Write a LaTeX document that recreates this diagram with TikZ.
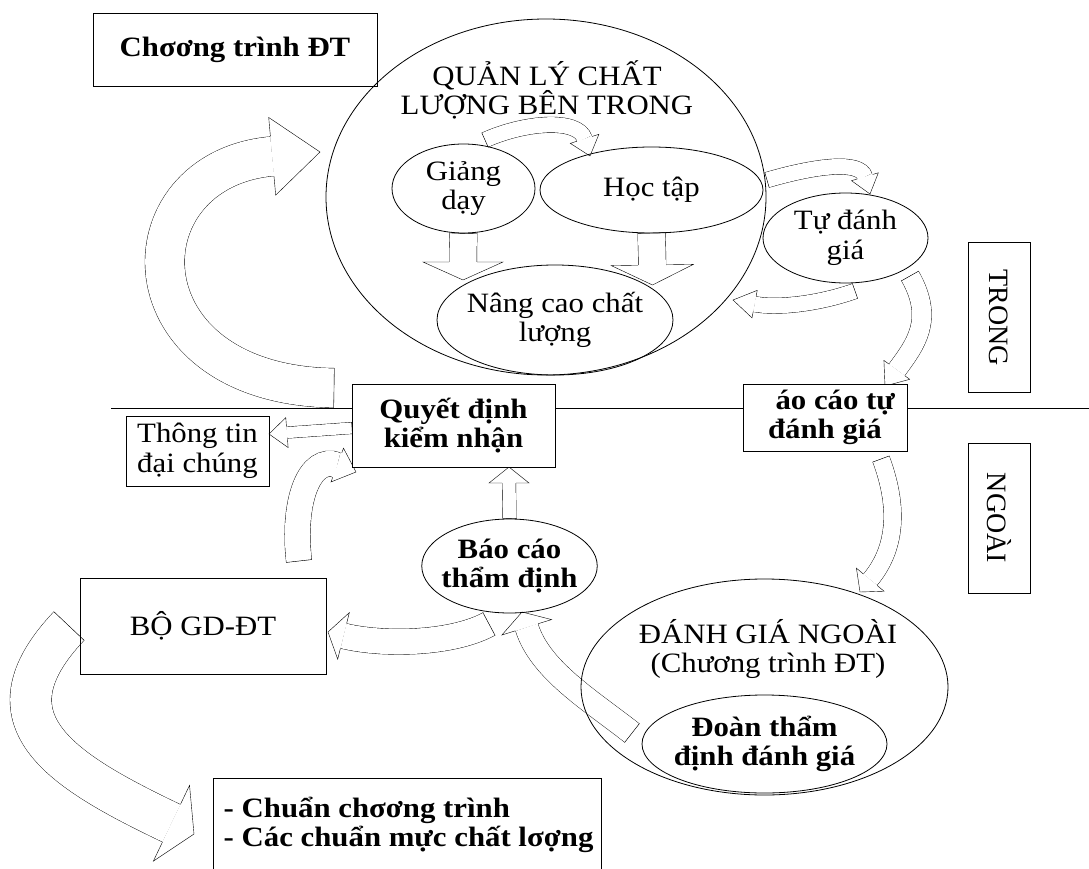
\documentclass[tikz,border=0pt]{standalone}
\usepackage{fontspec}
\setmainfont{Liberation Serif}[FakeStretch=1.1]
\newfontfamily\uprightrm{Liberation Serif}
\usetikzlibrary{shapes.geometric, calc}
\pgfdeclarelayer{background}
\pgfsetlayers{background,main}
\tikzset{
    txt/.style={font=\fontsize{28}{29.5}\selectfont},
    btxt/.style={font=\fontsize{28}{29.5}\selectfont\bfseries},
    box/.style={draw, rectangle, inner sep=0pt, align=center},
    oval/.style={draw, ellipse, inner sep=-6pt, align=center},
    side/.style={box, minimum width=62pt, minimum height=150pt},
}
% block arrow: start, control 1, control 2, tip, shaft half width, head half width, head length
\newcommand{\blockarrow}[7]{%
    \pgfmathsetlengthmacro\badist{2*#5pt-0.8pt}
    \coordinate (ba-b) at ($(#4)!#7pt!(#3)$);
    \draw[double=white, double distance=\badist, shorten >=#7pt] (#1) .. controls (#2) and (#3) .. (#4);
    \draw ($(#1)!#5pt!90:(#2)$) -- ($(#1)!#5pt!-90:(#2)$);
    \filldraw[fill=white] ($(ba-b)!#5pt!90:(#4)$) -- ($(ba-b)!#6pt!90:(#4)$) -- (#4)
        -- ($(ba-b)!#6pt!-90:(#4)$) -- ($(ba-b)!#5pt!-90:(#4)$);
}

\begin{document}
\begin{tikzpicture}[x=1pt, y=-1pt, line width=0.8pt, txt]
    \useasboundingbox (0,0) rectangle (1089,869);

    % inside
    \node[box, btxt, minimum width=284pt, minimum height=73pt] (cdt) at (235,49.5) {Chσơng trình ĐT};
    \node[oval, minimum width=440pt, minimum height=356pt] (qlcl) at (546,197) {};
    \node[align=center] (qlclt) at (547,90) {QUẢN LÝ CHẤT\\LƯỢNG BÊN TRONG};
    \node[oval, minimum width=143pt, minimum height=89pt] (gd) at (463.5,188.5) {Giảng\\dạy};
    \node[oval, minimum width=223pt, minimum height=86pt] (ht) at (651.5,190) {Học tập};
    \node[oval, minimum width=236pt, minimum height=110pt] (ncl) at (555,320) {Nâng cao chất\\lượng};
    \node[oval, minimum width=165pt, minimum height=90pt] (tdg) at (845.5,238) {Tự đánh\\giá};
    \node[side] (trong) at (999,317.5) {\rotatebox{-90}{\uprightrm TRONG}};

    % on the line
    \node[box, btxt, fill=white, minimum width=203pt, minimum height=83pt] (qd) at (453.5,425.5) {Quyết định\\kiểm nhận};
    \node[box, btxt, fill=white, minimum width=164pt, minimum height=67pt] (ac) at (825,417.5) {\phantom{B}áo cáo tự\\đánh giá};

    % outside
    \node[box, minimum width=143pt, minimum height=70pt] (ttdc) at (197.5,451) {Thông tin\\đại chúng};
    \node[side] (ngoai) at (999,518) {\rotatebox{-90}{\uprightrm NGOÀI}};
    \node[oval, btxt, minimum width=175pt, minimum height=94pt] (bctd) at (509.5,566) {Báo cáo\\thẩm định};
    \node[box, minimum width=246pt, minimum height=96pt] (bo) at (203,626) {BỘ GD-ĐT};
    \node[oval, minimum width=367pt, minimum height=216pt] (dgn) at (764.5,687) {};
    \node[align=center] (dgnt) at (768,649) {ĐÁNH GIÁ NGOÀI\\(Chương trình ĐT)};
    \node[oval, btxt, minimum width=245pt, minimum height=98pt] (dtd) at (764.5,744) {Đoàn thẩm\\định đánh giá};
    \node[box, anchor=north west, minimum width=388pt, minimum height=102pt] (chuan) at (213,778) {};
    \node[btxt, anchor=west, align=left] (chuant) at (220,825) {- Chuẩn chσơng trình\\- Các chuẩn mực chất lσợng};

    \begin{pgfonlayer}{background}
        \draw (111,408) -- (1089,408);
        \blockarrow{334,388}{120,385}{120,170}{320,152}{20}{39}{48}
        \blockarrow{485,140}{525,122}{578,118}{590,156}{8}{15}{18}
        \blockarrow{gd.south}{463,250}{463,250}{463,280}{14}{40}{18}
        \blockarrow{651.5,233}{652,250}{652,250}{652.5,285}{14}{41}{20}
        \blockarrow{767,180}{815,166}{860,160}{870,194}{8}{14}{18}
        \blockarrow{855,291}{815,305}{775,308}{733,300}{8}{14}{22}
        \blockarrow{910,276}{935,320}{915,345}{885,386}{10}{16}{20}
        \blockarrow{881,459}{900,510}{895,550}{860,592}{9}{18}{16}
        \blockarrow{352,428}{320,430}{320,430}{269,434}{6}{15}{18}
        \blockarrow{bctd.north}{509,500}{509,500}{509,467}{7}{20}{16}
        \blockarrow{489,624}{450,645}{380,645}{328,632}{13}{24}{16}
        \blockarrow{299,561}{292,500}{310,455}{356,472}{13}{18}{20}
        \blockarrow{632,733}{590,700}{540,670}{522,612}{12}{26}{16}
        \blockarrow{69,626}{-20,720}{60,770}{194,834}{21}{42}{25}
    \end{pgfonlayer}
\end{tikzpicture}
\end{document}
